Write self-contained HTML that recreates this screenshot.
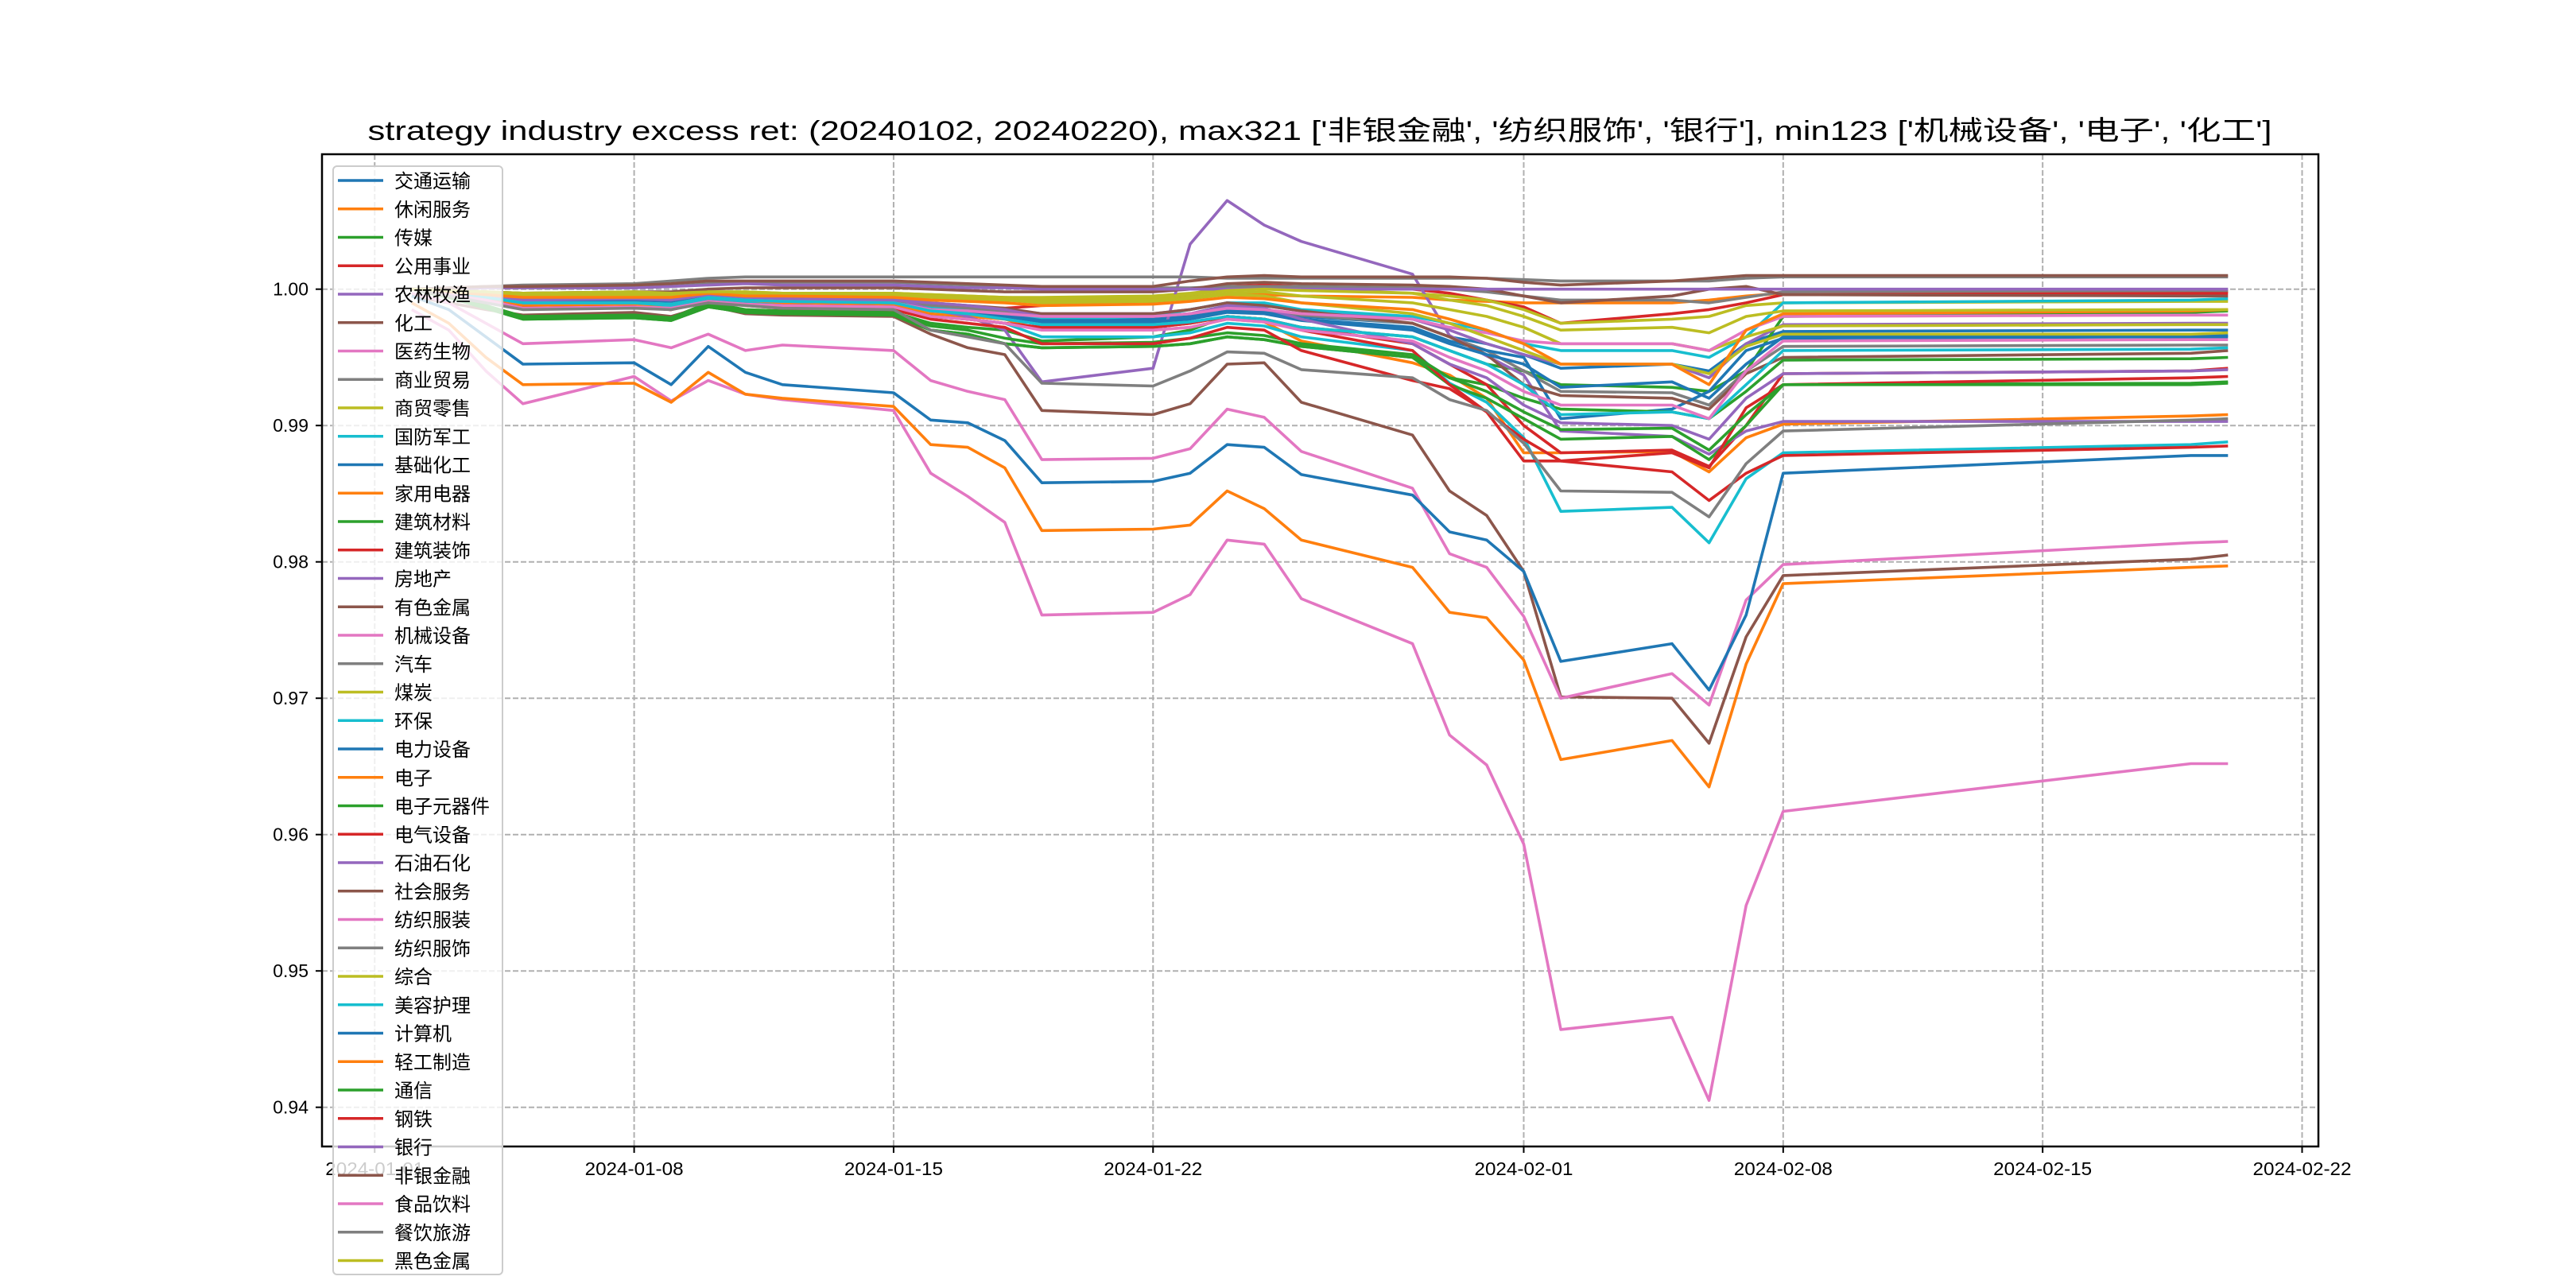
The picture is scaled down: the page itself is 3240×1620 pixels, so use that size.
<!DOCTYPE html>
<html><head><meta charset="utf-8"><style>
html,body{margin:0;padding:0;background:#fff;}
svg{display:block;}
text{font-family:"WenQuanYi Zen Hei","Liberation Sans","Noto Sans CJK SC",sans-serif;}
</style></head><body>
<svg id="chart" width="3240" height="1620" viewBox="0 0 3240 1620" xmlns="http://www.w3.org/2000/svg">
<rect width="3240" height="1620" fill="#fff"/>
<text x="1660" y="176" text-anchor="middle" font-size="34" textLength="2395" lengthAdjust="spacingAndGlyphs">strategy industry excess ret: (20240102, 20240220), max321 ['非银金融', '纺织服饰', '银行'], min123 ['机械设备', '电子', '化工']</text>
<g id="grid"></g>
<g id="lines" clip-path="url(#clip)"></g>
<defs><clipPath id="clip"><rect x="405" y="194" width="2511" height="1248"/></clipPath></defs>
<rect x="405" y="194" width="2511" height="1248" fill="none" stroke="#000" stroke-width="2.5"/>
<g id="axes"></g>
<g id="legend"></g>
</svg>
<script>
const dates = ["2024-01-02","2024-01-03","2024-01-04","2024-01-05","2024-01-08","2024-01-09","2024-01-10","2024-01-11","2024-01-12","2024-01-15","2024-01-16","2024-01-17","2024-01-18","2024-01-19","2024-01-22","2024-01-23","2024-01-24","2024-01-25","2024-01-26","2024-01-29","2024-01-30","2024-01-31","2024-02-01","2024-02-02","2024-02-05","2024-02-06","2024-02-07","2024-02-08","2024-02-19","2024-02-20"];
const names = ["交通运输","休闲服务","传媒","公用事业","农林牧渔","化工","医药生物","商业贸易","商贸零售","国防军工","基础化工","家用电器","建筑材料","建筑装饰","房地产","有色金属","机械设备","汽车","煤炭","环保","电力设备","电子","电子元器件","电气设备","石油石化","社会服务","纺织服装","纺织服饰","综合","美容护理","计算机","轻工制造","通信","钢铁","银行","非银金融","食品饮料","餐饮旅游","黑色金属"];
// excess return in basis points relative to 1.0
const s01 = [0,-2,-5,-8,-8,-9,-5,-7,-8,-9,-14,-16,-18,-22,-22,-20,-15,-16,-20,-25,-35,-40,-48,-58,-55,-60,-40,-31,-30,-30];
const s02 = [0,-2,-4,-6,-5,-5,-3,-4,-4,-5,-6,-7,-8,-8,-7,-6,-4,-4,-5,-6,-8,-9,-10,-10,-10,-8,-5,-3,-2,-2];
const s03 = [0,-5,-12,-20,-19,-21,-10,-15,-16,-17,-25,-28,-30,-38,-35,-30,-20,-22,-28,-35,-45,-55,-60,-70,-72,-75,-60,-20,-17,-16];
const s04 = [0,-2,-5,-10,-9,-10,-5,-6,-7,-8,-12,-13,-14,-12,-10,-5,2,3,2,0,-3,-8,-13,-25,-18,-15,-10,-4,-3,-3];
const s05 = [0,-3,-6,-9,-8,-9,-5,-6,-7,-8,-12,-13,-15,-18,-18,-15,-10,-12,-16,-22,-30,-40,-48,-55,-55,-65,-40,-26,-25,-25];
const s06 = [-5,-10,-15,-19,-17,-20,-12,-18,-19,-20,-33,-43,-48,-89,-92,-84,-55,-54,-83,-107,-148,-166,-207,-299,-300,-333,-255,-210,-198,-195];
const s07 = [-3,-10,-25,-40,-37,-43,-33,-45,-41,-45,-67,-75,-81,-125,-124,-117,-88,-94,-119,-146,-194,-204,-240,-300,-282,-305,-228,-202,-186,-185];
const s08 = [0,-2,-5,-8,-8,-9,-5,-6,-7,-8,-12,-14,-16,-20,-20,-18,-14,-15,-19,-25,-35,-45,-60,-75,-76,-85,-60,-42,-41,-41];
const s09 = [0,-1,-2,-3,-2,-3,-2,-2,-3,-3,-4,-5,-6,-6,-5,-3,0,1,0,-3,-5,-8,-15,-25,-22,-20,-12,-10,-9,-9];
const s10 = [0,-3,-6,-12,-11,-12,-6,-8,-9,-10,-14,-16,-18,-22,-20,-15,-10,-10,-15,-20,-25,-30,-40,-45,-45,-50,-35,-10,-8,-7];
const s11 = [0,-2,-5,-9,-9,-10,-6,-8,-9,-10,-15,-17,-19,-23,-23,-21,-16,-17,-22,-28,-38,-45,-50,-95,-88,-75,-45,-36,-35,-35];
const s12 = [0,-4,-8,-12,-11,-12,-8,-10,-11,-12,-18,-20,-22,-30,-30,-28,-22,-24,-38,-54,-63,-80,-120,-120,-119,-134,-109,-99,-93,-92];
const s13 = [0,-6,-14,-22,-21,-23,-13,-17,-18,-19,-30,-33,-40,-43,-42,-40,-35,-37,-42,-50,-65,-70,-80,-88,-90,-95,-75,-52,-51,-50];
const s14 = [0,-4,-8,-14,-13,-15,-9,-11,-12,-13,-20,-22,-25,-28,-28,-25,-20,-22,-28,-40,-55,-70,-100,-120,-118,-130,-100,-62,-60,-58];
const s15 = [0,-2,-4,-6,-5,-6,-3,-4,-5,-6,-15,-20,-30,-68,-58,33,65,47,35,11,-34,-49,-63,-104,-108,-121,-104,-97,-97,-97];
const s16 = [0,-2,-4,-6,-5,-6,-3,-5,-5,-6,-10,-12,-14,-18,-18,-15,-10,-12,-16,-25,-35,-48,-70,-78,-80,-88,-62,-50,-47,-45];
const s17 = [-15,-30,-60,-84,-64,-82,-67,-77,-81,-89,-135,-152,-171,-239,-237,-224,-184,-187,-227,-260,-327,-349,-407,-543,-534,-595,-452,-383,-348,-348];
const s18 = [0,0,1,1,1,2,4,5,5,5,4,3,2,1,1,1,2,2,2,1,0,-2,-5,-8,-8,-10,-6,-2,-1,-1];
const s19 = [0,-1,-3,-5,-4,-5,-3,-4,-4,-5,-6,-7,-8,-9,-8,-6,-3,-2,-5,-10,-15,-20,-28,-40,-40,-45,-35,-27,-26,-26];
const s20 = [0,-3,-6,-10,-10,-12,-8,-10,-12,-13,-20,-22,-25,-35,-35,-32,-25,-27,-35,-45,-69,-83,-109,-163,-160,-186,-139,-120,-114,-112];
const s21 = [0,-3,-6,-10,-9,-10,-6,-8,-9,-10,-15,-17,-20,-24,-24,-22,-17,-18,-23,-30,-40,-48,-55,-72,-68,-80,-55,-35,-34,-34];
const s22 = [-10,-25,-50,-70,-69,-83,-61,-77,-80,-86,-114,-116,-131,-177,-176,-173,-148,-161,-184,-204,-237,-241,-272,-345,-331,-365,-275,-216,-204,-203];
const s23 = [0,-6,-14,-22,-21,-23,-13,-17,-18,-19,-30,-33,-40,-43,-42,-40,-35,-37,-42,-50,-70,-80,-95,-110,-108,-125,-100,-70,-69,-68];
const s24 = [0,-4,-8,-14,-13,-15,-9,-11,-12,-13,-20,-22,-25,-28,-28,-25,-20,-22,-30,-45,-70,-90,-110,-126,-120,-131,-87,-70,-65,-64];
const s25 = [0,-2,-5,-8,-7,-8,-4,-6,-7,-8,-10,-12,-15,-20,-20,-18,-12,-14,-22,-40,-55,-65,-85,-98,-100,-110,-80,-62,-60,-59];
const s26 = [0,-1,-2,-3,-2,-2,0,1,1,1,0,-1,-2,-2,-2,0,4,5,4,3,2,0,-5,-10,-5,0,2,-4,-5,-5];
const s27 = [0,-3,-6,-10,-10,-11,-6,-8,-9,-10,-15,-16,-18,-20,-20,-18,-14,-15,-18,-22,-28,-32,-38,-40,-40,-45,-30,-20,-19,-19];
const s28 = [0,1,2,3,4,6,8,9,9,9,9,9,9,9,9,9,8,8,8,8,8,8,7,6,6,6,8,9,9,9];
const s29 = [0,-1,-2,-4,-3,-4,-2,-3,-3,-4,-5,-6,-8,-10,-9,-7,-4,-5,-10,-18,-25,-35,-45,-55,-55,-62,-42,-33,-33,-32];
const s30 = [0,-3,-6,-10,-10,-11,-6,-8,-9,-10,-16,-18,-22,-26,-26,-24,-20,-22,-28,-35,-45,-55,-70,-92,-90,-95,-70,-45,-44,-43];
const s31 = [-5,-15,-35,-55,-54,-70,-42,-61,-70,-76,-96,-98,-111,-142,-141,-135,-114,-116,-136,-151,-178,-184,-207,-273,-260,-294,-239,-135,-122,-122];
const s32 = [0,-2,-4,-6,-6,-6,-3,-5,-5,-6,-8,-9,-10,-12,-11,-9,-6,-7,-10,-15,-22,-30,-40,-55,-55,-70,-30,-18,-16,-15];
const s33 = [0,-5,-12,-20,-19,-21,-11,-16,-17,-18,-27,-30,-36,-40,-39,-36,-32,-34,-40,-48,-65,-75,-90,-103,-102,-118,-92,-70,-70,-69];
const s34 = [0,-5,-10,-14,-13,-15,-9,-12,-14,-15,-22,-25,-28,-40,-40,-36,-28,-30,-45,-67,-73,-90,-126,-126,-134,-155,-135,-122,-116,-115];
const s35 = [0,0,1,1,1,2,3,4,3,3,2,1,1,0,0,0,0,0,0,0,0,0,0,0,0,0,0,0,0,0];
const s36 = [0,1,2,2,3,4,6,6,6,6,5,4,3,2,2,6,9,10,9,9,9,8,5,3,6,8,10,10,10,10];
const s37 = [0,-4,-8,-14,-13,-14,-9,-11,-12,-13,-20,-22,-25,-30,-30,-28,-22,-24,-30,-38,-50,-60,-75,-85,-85,-95,-60,-38,-37,-37];
const s38 = [0,-5,-10,-15,-14,-15,-10,-12,-14,-15,-30,-35,-40,-69,-71,-60,-46,-47,-59,-65,-81,-89,-113,-148,-149,-167,-128,-104,-96,-95];
const s39 = [0,-1,-2,-3,-2,-3,-2,-2,-3,-3,-4,-5,-6,-7,-6,-4,-1,0,-1,-3,-8,-12,-20,-30,-28,-32,-20,-16,-15,-15];
const series = [s01,s02,s03,s04,s05,s06,s07,s08,s09,s10,s11,s12,s13,s14,s15,s16,s17,s18,s19,s20,s21,s22,s23,s24,s25,s26,s27,s28,s29,s30,s31,s32,s33,s34,s35,s36,s37,s38,s39];
const yTicks = [0.94,0.95,0.96,0.97,0.98,0.99,1.00];
const xTicks = ["2024-01-01","2024-01-08","2024-01-15","2024-01-22","2024-02-01","2024-02-08","2024-02-15","2024-02-22"];

const palette = ["#1f77b4","#ff7f0e","#2ca02c","#d62728","#9467bd","#8c564b","#e377c2","#7f7f7f","#bcbd22","#17becf"];
const NS = "http://www.w3.org/2000/svg";
function dayNum(s){const p=s.split("-");return Date.UTC(+p[0],+p[1]-1,+p[2])/86400000;}
const d0 = dayNum("2024-01-08");
function xScale(s){return 797.6 + (dayNum(s)-d0)*46.62;}
function yScale(v){return 363.7 + (1.0 - v)*17150;}
function mk(tag, attrs, parent){const e=document.createElementNS(NS,tag);for(const k in attrs)e.setAttribute(k,attrs[k]);parent.appendChild(e);return e;}

const grid=document.getElementById("grid"), axes=document.getElementById("axes"), lines=document.getElementById("lines"), legend=document.getElementById("legend");
yTicks.forEach(t=>{
  const y=yScale(t);
  const g=mk("line",{x1:405,x2:2916,y1:y,y2:y,stroke:"#b0b0b0","stroke-width":2,"stroke-dasharray":"7,3"},grid);
  
  
  const tk=mk("line",{x1:397,x2:405,y1:y,y2:y,stroke:"#000","stroke-width":2},axes);
  
  
  const tx=mk("text",{x:388,y:y+8,"text-anchor":"end","font-size":23},axes);
  tx.textContent=t.toFixed(2);
  
  
});
xTicks.forEach(t=>{
  const x=xScale(t);
  const g=mk("line",{x1:x,x2:x,y1:194,y2:1442,stroke:"#b0b0b0","stroke-width":2,"stroke-dasharray":"7,3"},grid);
  
  
  const tk=mk("line",{x1:x,x2:x,y1:1442,y2:1450,stroke:"#000","stroke-width":2},axes);
  
  
  const tx=mk("text",{x:x,y:1478,"text-anchor":"middle","font-size":23,textLength:124,lengthAdjust:"spacingAndGlyphs"},axes);
  tx.textContent=t;
  
  
});
series.forEach((arr,i)=>{
  const pts=arr.map((v,j)=>xScale(dates[j]).toFixed(1)+","+yScale(1+v/10000).toFixed(1)).join(" ");
  const pl=mk("polyline",{points:pts,fill:"none",stroke:palette[i%10],"stroke-width":3.6,"stroke-linejoin":"round"},lines);
  
  
});
const lb=mk("rect",{x:419,y:209,width:213,height:1394,rx:5,fill:"#fff","fill-opacity":0.8,stroke:"#cccccc","stroke-width":2},legend);


names.forEach((n,i)=>{
  const y=227+i*35.75;
  const h=mk("line",{x1:425,x2:482,y1:y,y2:y,stroke:palette[i%10],"stroke-width":3.6},legend);
  
  
  const t=mk("text",{x:496,y:y+9,"font-size":24},legend);
  t.textContent=n;
  
  
});
</script>
</body></html>
